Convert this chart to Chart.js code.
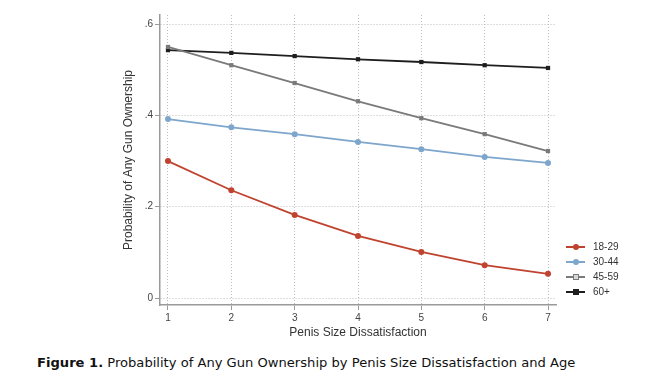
<!DOCTYPE html>
<html>
<head>
<meta charset="utf-8">
<script src="https://cdn.jsdelivr.net/npm/chart.js@4.4.0/dist/chart.umd.min.js"></script>
<style>
  body { margin: 0; background: #fff; }
  #wrap { position: relative; width: 653px; height: 377px; }
  #chart { position: absolute; left: 0; top: 0; }
  #legend { position: absolute; left: 566px; top: 240px; font: 10px "Liberation Sans", Arial, sans-serif; color: #333; }
  .item { height: 15px; line-height: 14px; position: relative; padding-left: 27px; }
  .item .ln { position: absolute; left: 0; top: 6px; width: 19px; height: 2px; }
  .item .mk { position: absolute; left: 7px; top: 4px; width: 6px; height: 6px; }
  #caption { position: absolute; left: 37px; top: 355px; font: 13.1px "DejaVu Sans", Verdana, sans-serif; color: #111; white-space: nowrap; }
</style>
</head>
<body>
<div id="wrap">
  <canvas id="chart" width="653" height="340"></canvas>
  <div id="legend"></div>
  <div id="caption"><b>Figure 1.</b> Probability of Any Gun Ownership by Penis Size Dissatisfaction and Age</div>
</div>
<script>
// dissatisfaction levels 1..7
const levels = [1, 2, 3, 4, 5, 6, 7];
const ageGroups = ['18-29', '30-44', '45-59', '60+'];
const age18_29 = [0.300, 0.236, 0.182, 0.136, 0.101, 0.072, 0.053];
const age30_44 = [0.392, 0.374, 0.359, 0.342, 0.326, 0.309, 0.296];
const age45_59 = [0.550, 0.510, 0.471, 0.431, 0.394, 0.359, 0.322];
const age60plus = [0.543, 0.537, 0.530, 0.523, 0.517, 0.510, 0.504];
const yTicks = [0, 0.2, 0.4, 0.6];

const colors = ['#c0432f', '#7ea6cd', '#7a7a7a', '#1e1e1e'];
const markers = ['circle', 'circle', 'rect', 'rect'];
const allSeries = [age18_29, age30_44, age45_59, age60plus];

const datasets = allSeries.map((vals, i) => ({
  label: ageGroups[i],
  data: vals.map((v, j) => ({ x: levels[j], y: v })),
  borderColor: colors[i],
  backgroundColor: colors[i],
  borderWidth: 1.8,
  pointStyle: markers[i],
  pointRadius: 3,
  pointBorderWidth: 0,
  tension: 0,
  order: i
}));

// html legend
const leg = document.getElementById('legend');
ageGroups.forEach((g, i) => {
  const it = document.createElement('div');
  it.className = 'item';
  const mkStyle = markers[i] === 'circle' ? 'border-radius:50%;' : '';
  const fill = i === 2 ? 'background:#d8d8d8;border:1px solid ' + colors[i] + ';width:4px;height:4px;' : 'background:' + colors[i] + ';';
  it.innerHTML = '<span class="ln" style="background:' + colors[i] + '"></span>' +
    '<span class="mk" style="' + mkStyle + fill + '"></span>' + g;
  leg.appendChild(it);
});

const axisGray = '#9a9a9a';
const gridGray = '#bdbdbd';

new Chart(document.getElementById('chart'), {
  type: 'line',
  data: { datasets: datasets },
  options: {
    responsive: false,
    animation: false,
    layout: { padding: { left: 117, top: 15, right: 97, bottom: 0 } },
    plugins: { legend: { display: false }, tooltip: { enabled: false } },
    scales: {
      x: {
        type: 'linear',
        min: 0.874,
        max: 7.126,
        afterBuildTicks: s => { s.ticks = levels.map(v => ({ value: v })); },
        afterFit: s => { s.height = 35; },
        ticks: { color: '#444', font: { size: 10, family: 'Liberation Sans' }, padding: 2, maxRotation: 0 },
        grid: { color: gridGray, tickLength: 5, tickColor: axisGray, tickBorderDash: [] },
        border: { display: true, color: axisGray, width: 1.5, dash: [1, 2] },
        title: { display: true, text: 'Penis Size Dissatisfaction', color: '#333', font: { size: 12, family: 'Liberation Sans' }, padding: { top: 0, bottom: 0 } }
      },
      y: {
        min: -0.0153,
        max: 0.62,
        afterBuildTicks: s => { s.ticks = yTicks.map(v => ({ value: v })); },
        afterFit: s => { s.width = 43; },
        ticks: {
          color: '#444', font: { size: 10, family: 'Liberation Sans' }, padding: 2,
          callback: v => v === 0 ? '0' : String(v.toFixed(1)).replace(/^0/, '')
        },
        grid: { color: gridGray, tickLength: 5, tickColor: axisGray, tickBorderDash: [] },
        border: { display: true, color: axisGray, width: 1.5, dash: [1, 2] },
        title: { display: true, text: 'Probability of Any Gun Ownership', color: '#333', font: { size: 12, family: 'Liberation Sans' } }
      }
    }
  }
});
</script>
</body>
</html>
